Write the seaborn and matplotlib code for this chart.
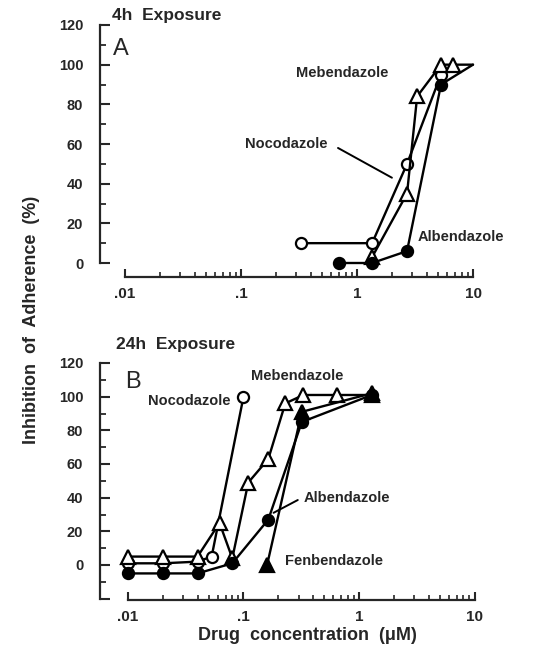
import numpy as np
import pandas as pd
import seaborn as sns
import matplotlib.pyplot as plt
from matplotlib.ticker import FixedLocator, FixedFormatter, NullFormatter

## DATA
# panel A, 4h exposure
noc4_x = [0.33, 1.35, 2.7, 5.3]
noc4_y = [10, 10, 50, 95]
meb4_x = [1.35, 2.7, 3.3, 5.3, 6.7, 10]
meb4_y = [3, 35, 84, 100, 100, 100]
alb4_x = [0.7, 1.35, 2.7, 5.3, 10]
alb4_y = [0, 0, 6, 90, 100]

# panel B, 24h exposure
noc24_x = [0.01, 0.02, 0.04, 0.053, 0.1]
noc24_y = [1, 1, 2, 5, 100]
meb24_x = [0.01, 0.02, 0.04, 0.062, 0.08, 0.11, 0.164, 0.23, 0.33, 0.65, 1.29]
meb24_y = [5, 5, 5, 25, 4, 49, 63, 96, 101, 101, 101]
alb24_x = [0.01, 0.02, 0.04, 0.08, 0.164, 0.32, 1.29]
alb24_y = [-5, -5, -5, 1, 27, 85, 101]
fen24_x = [0.16, 0.32, 1.29]
fen24_y = [0, 91, 102]

x_ticks = [0.01, 0.1, 1, 10]
x_ticklabels = ['.01', '.1', '1', '10']


## STYLE
sns.set_style('ticks')
plt.rcParams['font.family'] = ['Liberation Sans', 'DejaVu Sans']
plt.rcParams['font.weight'] = 'bold'

W, H = 533, 646
fig = plt.figure(figsize=(W / 100, H / 100), dpi=100)


def px_axes(left, right, top, bottom):
    return fig.add_axes([left / W, 1 - bottom / H, (right - left) / W, (bottom - top) / H])


def series(ax, x, y, marker, face, size, skip_last=False):
    df = pd.DataFrame({'x': x, 'y': y})
    n = len(df)
    every = list(range(n - 1)) if skip_last else None
    sns.lineplot(data=df, x='x', y='y', ax=ax, estimator=None, sort=False,
                 color='black', lw=1.7, marker=marker, ms=size,
                 markerfacecolor=face, markeredgecolor='black', mew=1.6,
                 markevery=every, zorder=3)


def style_axes(ax, ymin_tick, decade_px, x0_px, x_left, x_right):
    ax.set_xscale('log')
    lo = 10 ** (-2 - (x0_px - x_left) / decade_px)
    hi = 10 ** (1 + (x_right - (x0_px + 3 * decade_px)) / decade_px)
    ax.set_xlim(lo, hi)
    ax.spines['top'].set_visible(False)
    ax.spines['right'].set_visible(False)
    for s in ['left', 'bottom']:
        ax.spines[s].set_linewidth(1.6)
    ax.spines['bottom'].set_bounds(0.01, 10)
    ax.spines['left'].set_bounds(ymin_tick, 120)

    ax.xaxis.set_major_locator(FixedLocator(x_ticks))
    ax.xaxis.set_major_formatter(FixedFormatter(x_ticklabels))
    minors = [m * d for d in (0.01, 0.1, 1) for m in range(2, 10)]
    ax.xaxis.set_minor_locator(FixedLocator(minors))
    ax.xaxis.set_minor_formatter(NullFormatter())

    maj = list(range(ymin_tick, 121, 20))
    labels = ['' if v < 0 else str(v) for v in maj]
    ax.yaxis.set_major_locator(FixedLocator(maj))
    ax.yaxis.set_major_formatter(FixedFormatter(labels))
    ax.yaxis.set_minor_locator(FixedLocator(list(range(ymin_tick + 10, 120, 20))))

    ax.tick_params(axis='y', which='major', direction='in', length=7, width=1.5,
                   pad=12, labelsize=10.5)
    ax.tick_params(axis='y', which='minor', direction='in', length=4.5, width=1.3)
    ax.tick_params(axis='x', which='major', direction='in', length=6, width=1.5,
                   pad=7, labelsize=11)
    ax.tick_params(axis='x', which='minor', direction='in', length=3.5, width=1.2)
    for lab in ax.get_xticklabels() + ax.get_yticklabels():
        lab.set_fontweight('bold')
    ax.set_xlabel('')
    ax.set_ylabel('')


## PANEL A
ax1 = px_axes(100, 480, 25, 277)
ax1.set_ylim(-(277 - 263) / (238 / 120), 120)
series(ax1, noc4_x, noc4_y, 'o', 'white', 8)
series(ax1, meb4_x, meb4_y, '^', 'white', 9.5, skip_last=True)
series(ax1, alb4_x, alb4_y, 'o', 'black', 8, skip_last=True)
style_axes(ax1, 0, 116, 125, 100, 480)

ax1.text(0.0077, 125, '4h  Exposure', fontsize=12.5, fontweight='bold', va='center')
ax1.text(0.0078, 108, 'A', fontsize=17, fontweight='normal', va='center')
ax1.text(0.30, 96, 'Mebendazole', fontsize=10.5, fontweight='bold', va='center')
ax1.text(0.108, 60, 'Nocodazole', fontsize=10.5, fontweight='bold', va='center')
ax1.plot([0.686, 2.0], [58, 43], color='black', lw=1.4)
ax1.text(3.35, 13, 'Albendazole', fontsize=10.5, fontweight='bold', va='center')

## PANEL B
ax2 = px_axes(100, 480, 363, 600)
ax2.set_ylim(-(600 - 565) / ((565 - 363) / 120), 120)
series(ax2, noc24_x, noc24_y, 'o', 'white', 8)
series(ax2, meb24_x, meb24_y, '^', 'white', 9.5)
series(ax2, alb24_x, alb24_y, 'o', 'black', 8)
series(ax2, fen24_x, fen24_y, '^', 'black', 9.5)
style_axes(ax2, -20, 115.5, 128, 100, 480)

ax2.text(0.0079, 131, '24h  Exposure', fontsize=12.5, fontweight='bold', va='center')
ax2.text(0.0094, 109, 'B', fontsize=17, fontweight='normal', va='center')
ax2.text(0.077, 97.5, 'Nocodazole', fontsize=10.5, fontweight='bold', va='center', ha='right')
ax2.text(0.115, 112, 'Mebendazole', fontsize=10.5, fontweight='bold', va='center')
ax2.text(0.333, 40, 'Albendazole', fontsize=10.5, fontweight='bold', va='center')
ax2.plot([0.295, 0.182], [38.6, 31], color='black', lw=1.4)
ax2.text(0.228, 2.4, 'Fenbendazole', fontsize=10.5, fontweight='bold', va='center')

## AXIS TITLES
fig.text(32 / W, 1 - 320 / H, 'Inhibition  of  Adherence  (%)', rotation=90,
         ha='center', va='center', fontsize=13, fontweight='bold')
fig.text(307 / W, 1 - 635 / H, 'Drug  concentration  (\u03bcM)',
         ha='center', va='center', fontsize=13, fontweight='bold')

fig.savefig('out.png', dpi=100)
